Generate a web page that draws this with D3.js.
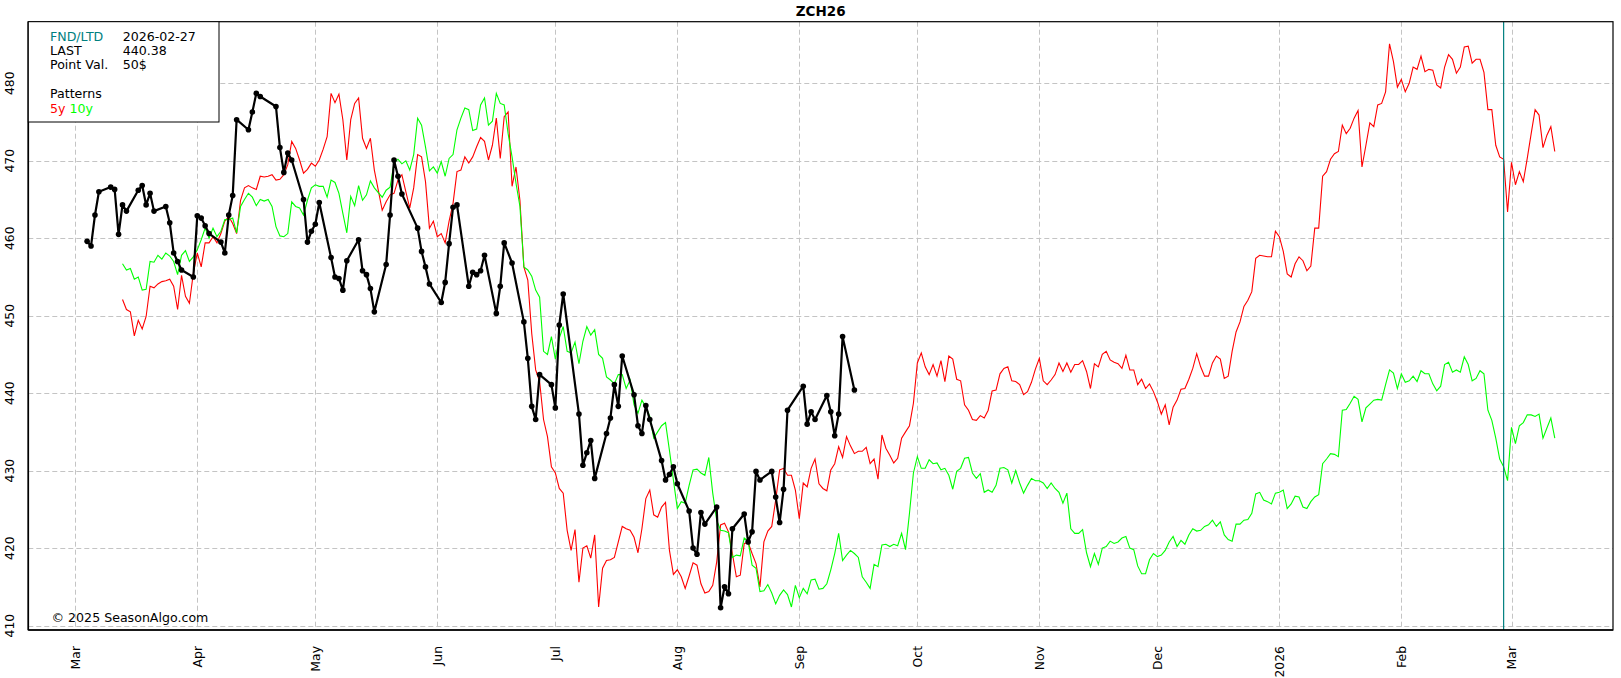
<!DOCTYPE html>
<html>
<head>
<meta charset="utf-8">
<script src="https://cdn.jsdelivr.net/npm/d3@7"></script>
<style>
  html, body { margin: 0; padding: 0; background: #fff; }
  svg { display: block; font-family: "DejaVu Sans", sans-serif; }
</style>
</head>
<body>
<svg id="chart" width="1621" height="678"></svg>
<script>
// ---------------- DATA ----------------
const title = "ZCH26";
const fndDate = "2026-02-27";
const lastPrice = "440.38";
const pointValue = "50$";

const blackDates = [
  "2025-03-04","2025-03-05","2025-03-06","2025-03-07","2025-03-10","2025-03-11","2025-03-12","2025-03-13","2025-03-14",
  "2025-03-17","2025-03-18","2025-03-19","2025-03-20","2025-03-21","2025-03-24","2025-03-25","2025-03-26","2025-03-27","2025-03-28",
  "2025-03-31","2025-04-01","2025-04-02","2025-04-03","2025-04-04","2025-04-07","2025-04-08","2025-04-09","2025-04-10","2025-04-11",
  "2025-04-14","2025-04-15","2025-04-16","2025-04-17","2025-04-21","2025-04-22","2025-04-23","2025-04-24","2025-04-25",
  "2025-04-28","2025-04-29","2025-04-30","2025-05-01","2025-05-02","2025-05-05","2025-05-06","2025-05-07","2025-05-08","2025-05-09",
  "2025-05-12","2025-05-13","2025-05-14","2025-05-15","2025-05-16","2025-05-19","2025-05-20","2025-05-21","2025-05-22","2025-05-23",
  "2025-05-27","2025-05-28","2025-05-29","2025-05-30","2025-06-02","2025-06-03","2025-06-04","2025-06-05","2025-06-06",
  "2025-06-09","2025-06-10","2025-06-11","2025-06-12","2025-06-13","2025-06-16","2025-06-17","2025-06-18","2025-06-20",
  "2025-06-23","2025-06-24","2025-06-25","2025-06-26","2025-06-27","2025-06-30","2025-07-01","2025-07-02","2025-07-03",
  "2025-07-07","2025-07-08","2025-07-09","2025-07-10","2025-07-11","2025-07-14","2025-07-15","2025-07-16","2025-07-17","2025-07-18",
  "2025-07-21","2025-07-22","2025-07-23","2025-07-24","2025-07-25","2025-07-28","2025-07-29","2025-07-30","2025-07-31","2025-08-01",
  "2025-08-04","2025-08-05","2025-08-06","2025-08-07","2025-08-08","2025-08-11","2025-08-12","2025-08-13","2025-08-14","2025-08-15",
  "2025-08-18","2025-08-19","2025-08-20","2025-08-21","2025-08-22","2025-08-25","2025-08-26","2025-08-27","2025-08-28","2025-08-29",
  "2025-09-02","2025-09-03","2025-09-04","2025-09-05","2025-09-08","2025-09-09","2025-09-10","2025-09-11","2025-09-12","2025-09-15"
];
const blackValues = [
  459.6,459.0,463.0,466.0,466.6,466.3,460.5,464.3,463.5,
  466.2,466.8,464.3,465.8,463.5,464.1,462.0,458.1,457.0,455.9,
  455.0,462.9,462.6,461.6,460.6,459.5,458.1,463.0,465.5,475.3,
  474.0,476.3,478.7,478.3,477.0,471.7,468.5,471.0,470.1,
  465.0,459.5,460.9,461.8,464.6,457.5,455.0,454.8,453.3,457.1,
  459.8,455.8,455.3,453.5,450.5,456.6,463.0,470.1,468.0,465.7,
  461.3,458.3,456.3,454.1,451.7,454.3,459.3,464.0,464.3,
  453.8,455.6,455.3,455.8,457.8,450.3,453.8,459.4,456.8,
  449.2,444.5,438.3,436.6,442.4,441.1,438.1,448.8,452.8,
  437.3,430.7,432.3,433.9,429.0,434.8,436.8,441.1,438.3,444.8,
  439.8,435.8,434.8,438.4,436.6,431.3,428.8,429.5,430.5,428.3,
  424.8,420.0,419.2,424.6,423.1,425.3,412.3,415.0,414.1,422.5,
  424.4,420.8,422.1,429.9,428.8,429.9,426.6,423.3,427.6,437.8,
  440.9,436.0,437.6,436.6,439.7,437.6,434.5,437.3,447.3,440.4
];

// Seasonal patterns: one value per calendar day starting at patternStart
const patternStart = "2025-03-13";
const pattern5y = [
  452.1,450.8,450.5,447.4,449.4,448.3,449.9,453.8,453.6,454.1,
  454.4,454.5,454.7,453.8,450.8,455.2,452.5,451.6,455.5,458.1,
  456.3,459.4,459.4,460.2,459.4,460.6,462.2,462.8,461.9,460.6,
  464.9,466.5,466.8,466.5,466.3,468.0,467.9,468.0,468.2,467.5,
  467.6,468.2,469.5,472.5,471.6,470.1,468.4,468.9,469.7,469.3,
  470.1,471.5,473.1,478.7,477.5,478.6,475.3,470.1,475.3,477.4,
  478.1,472.9,471.6,472.9,468.8,466.2,463.6,464.7,465.6,465.8,
  467.5,468.2,466.0,463.9,466.5,470.8,470.5,467.3,461.3,462.2,
  460.2,460.6,459.4,462.2,464.5,468.6,468.8,470.5,469.7,470.5,
  471.8,473.0,472.5,470.1,472.0,475.5,470.3,475.7,476.3,466.7,
  469.2,464.9,456.3,454.6,447.7,443.0,441.5,436.6,434.4,430.5,
  429.7,427.7,427.1,422.3,419.7,422.4,415.6,420.0,420.3,418.7,
  421.7,412.4,417.4,418.4,418.5,418.8,420.8,422.8,422.5,422.3,
  421.4,419.4,422.5,426.4,427.5,424.3,424.0,425.3,425.9,419.7,
  416.6,417.2,416.3,414.8,416.4,418.1,417.8,415.4,414.2,414.4,
  415.2,418.2,423.0,423.2,422.1,419.3,416.3,416.5,420.6,420.7,
  419.3,418.0,415.0,420.8,422.2,422.8,426.2,430.1,430.3,429.4,
  429.4,427.5,423.8,428.4,427.9,430.3,431.5,428.3,427.7,427.4,
  430.1,430.9,433.1,431.7,434.4,433.2,432.2,432.5,432.5,433.0,
  430.9,431.5,428.9,434.6,432.9,432.0,431.0,431.6,434.2,435.0,
  435.8,438.7,443.9,445.2,443.4,442.4,443.7,442.2,444.2,441.5,
  444.8,444.4,441.8,441.6,438.5,437.8,436.6,436.5,437.1,436.8,
  437.8,440.3,440.4,442.5,443.2,443.4,441.6,441.5,441.1,439.8,
  440.2,441.4,443.1,444.5,441.6,441.1,441.7,442.4,443.9,442.8,
  443.9,442.7,443.7,443.7,444.2,442.8,440.6,443.8,443.4,445.0,
  445.4,444.3,444.0,443.8,443.2,444.9,443.0,443.0,441.1,441.8,
  440.6,441.2,440.2,438.9,437.3,438.5,435.9,438.2,439.1,440.5,
  440.6,441.8,443.2,445.1,443.4,442.2,442.2,443.9,444.8,444.4,
  441.9,442.2,445.4,447.9,449.2,451.2,452.0,453.1,457.4,457.8,
  457.7,457.6,457.6,460.9,460.2,458.3,455.4,455.0,456.7,457.6,
  457.1,455.8,456.4,461.3,461.3,468.0,468.6,470.2,470.9,471.2,
  474.6,473.5,474.2,475.5,476.5,469.2,472.0,474.9,474.4,477.2,
  477.4,478.9,485.1,482.8,479.5,480.5,478.9,480.0,482.1,481.8,
  483.5,481.5,481.8,481.7,479.8,479.4,482.1,483.7,483.1,481.3,
  482.1,484.7,484.8,482.6,483.1,483.1,481.4,476.6,476.6,472.0,
  470.5,470.2,463.4,469.8,466.9,468.6,467.3,470.3,473.5,476.6,
  475.9,471.7,473.3,474.4,471.2
];
const pattern10y = [
  456.7,455.9,456.1,454.7,455.0,453.3,453.4,457.0,456.9,457.8,
  457.3,458.1,457.7,457.0,455.3,457.8,458.4,457.0,457.6,458.5,
  459.8,461.3,460.0,461.3,460.2,460.9,462.4,462.4,462.6,460.7,
  464.1,465.0,465.8,465.3,464.2,465.0,464.8,465.0,464.1,461.5,
  460.3,460.2,460.6,464.7,464.1,463.9,463.0,464.9,466.5,466.9,
  466.7,466.7,465.3,467.5,467.2,465.8,463.2,460.7,465.4,464.2,
  466.8,464.9,465.6,467.4,466.5,465.9,465.3,466.2,466.6,469.7,
  470.2,469.6,470.0,468.8,470.8,475.5,474.6,471.8,468.7,469.2,
  468.4,469.9,468.0,470.3,470.8,474.0,475.5,476.8,476.6,473.9,
  474.1,477.2,478.1,474.6,475.1,478.7,477.4,477.2,473.5,470.5,
  467.1,464.1,456.3,455.9,455.1,453.3,452.4,445.4,445.0,447.3,
  444.4,447.1,448.6,445.4,445.2,446.6,443.8,446.7,448.6,447.5,
  448.2,445.0,444.5,442.1,441.7,441.2,442.4,442.4,440.6,441.7,
  438.5,437.4,439.1,438.2,437.0,434.2,435.0,435.8,436.2,432.6,
  428.8,425.1,426.0,425.8,428.1,430.1,430.2,429.7,429.4,431.7,
  427.1,423.6,422.3,422.2,422.0,418.8,419.1,419.0,421.3,420.9,
  417.8,417.4,414.4,414.5,415.3,414.2,412.8,413.9,414.6,414.0,
  412.4,415.2,413.6,414.8,414.1,415.9,416.0,414.7,414.8,415.4,
  417.2,419.3,421.9,418.4,419.1,419.7,419.3,418.8,416.3,415.6,
  414.8,417.9,417.6,420.4,420.5,420.2,420.5,420.3,421.9,419.8,
  424.5,429.7,431.8,430.3,430.3,431.4,430.9,431.0,430.1,430.3,
  429.4,427.6,429.9,430.3,431.6,431.7,429.7,429.0,429.6,427.2,
  427.5,427.2,428.1,430.3,430.4,430.1,428.4,430.0,428.4,427.1,
  428.1,429.0,428.7,428.7,428.4,427.7,428.4,427.7,427.2,425.8,
  427.1,422.5,421.9,421.9,422.4,419.4,417.6,419.3,417.9,420.0,
  420.2,420.9,420.6,420.8,421.3,421.5,420.0,419.8,417.7,416.7,
  416.7,418.5,419.3,418.9,419.1,419.7,420.8,421.5,420.2,421.0,
  420.5,421.7,422.5,422.2,422.3,422.8,423.0,423.6,422.8,423.4,
  421.7,421.1,420.9,423.1,423.1,423.6,423.7,424.5,427.0,427.2,
  426.2,426.0,425.7,427.1,427.2,427.5,425.1,425.7,426.7,426.6,
  425.3,425.1,426.0,426.6,426.9,430.9,431.5,432.2,432.1,431.8,
  437.8,437.9,438.7,439.6,439.2,436.3,438.1,438.6,439.1,439.2,
  439.1,441.1,443.0,442.6,440.6,442.5,441.4,441.6,442.2,441.5,
  442.9,442.5,442.5,441.2,440.3,440.9,443.7,444.0,442.7,443.0,
  442.7,444.7,443.7,441.6,441.9,442.9,442.5,437.8,436.5,434.2,
  431.5,430.5,428.7,435.6,433.5,435.8,436.2,437.2,437.2,437.0,
  437.3,434.2,435.5,436.8,434.2
];

const yTicks = [410, 420, 430, 440, 450, 460, 470, 480];
const monthTickStart = "2025-03-01";
const monthTickEnd = "2026-03-02";
const yDomain = [409.43, 487.95];
const xAnchorDates = ["2025-03-01", "2026-03-01"];

// ---------------- LAYOUT ----------------
const W = 1621, H = 678;
const plot = { left: 28.3, right: 1613, top: 21.7, bottom: 630 };

const parse = d3.utcParse("%Y-%m-%d");
const svg = d3.select("#chart");

const x = d3.scaleUtc()
  .domain(xAnchorDates.map(parse))
  .range([75.3, 1511.5]);
const y = d3.scaleLinear().domain(yDomain).range([plot.bottom, plot.top]);

svg.append("defs").append("clipPath").attr("id", "clip")
  .append("rect")
  .attr("x", plot.left).attr("y", plot.top)
  .attr("width", plot.right - plot.left).attr("height", plot.bottom - plot.top);

// Title
svg.append("text")
  .attr("x", (plot.left + plot.right) / 2).attr("y", 15.5)
  .attr("text-anchor", "middle")
  .attr("font-size", 13.5)
  .attr("font-weight", "bold")
  .attr("fill", "#000")
  .text(title);

// Grid
const months = d3.utcMonth.range(parse(monthTickStart), parse(monthTickEnd));
const grid = svg.append("g").attr("stroke", "#c4c4c4").attr("stroke-width", 1)
  .attr("stroke-dasharray", "5,3").attr("fill", "none");
grid.selectAll("line.v").data(months).join("line").attr("class", "v")
  .attr("x1", d => Math.round(x(d)) + 0.5).attr("x2", d => Math.round(x(d)) + 0.5)
  .attr("y1", plot.top).attr("y2", plot.bottom);
grid.selectAll("line.h").data(yTicks).join("line").attr("class", "h")
  .attr("x1", plot.left).attr("x2", plot.right)
  .attr("y1", d => Math.round(y(d)) + 0.5).attr("y2", d => Math.round(y(d)) + 0.5);

// X tick labels (rotated)
const fmtMonth = d => d.getUTCMonth() === 0 ? String(d.getUTCFullYear()) : d3.utcFormat("%b")(d);
svg.append("g").selectAll("text").data(months).join("text")
  .attr("transform", d => `translate(${x(d)},646) rotate(-90)`)
  .attr("text-anchor", "end")
  .attr("dy", "0.35em")
  .attr("font-size", 12.4)
  .attr("fill", "#000")
  .text(fmtMonth);

// Y tick labels (rotated)
svg.append("g").selectAll("text").data(yTicks).join("text")
  .attr("transform", d => `translate(13.5,${y(d)}) rotate(-90)`)
  .attr("text-anchor", "middle")
  .attr("font-size", 12.4)
  .attr("fill", "#000")
  .text(d => d);

// Pattern lines
const start = parse(patternStart);
const toPts = arr => arr.map((v, i) => ({ date: d3.utcDay.offset(start, i), value: v }));
const line = d3.line().x(d => x(d.date)).y(d => y(d.value));
const plotG = svg.append("g").attr("clip-path", "url(#clip)");

plotG.append("path").datum(toPts(pattern5y))
  .attr("fill", "none").attr("stroke", "#ff0000").attr("stroke-width", 1.1)
  .attr("d", line);
plotG.append("path").datum(toPts(pattern10y))
  .attr("fill", "none").attr("stroke", "#00ff00").attr("stroke-width", 1.1)
  .attr("d", line);

// FND/LTD vertical line
plotG.append("line")
  .attr("x1", x(parse(fndDate))).attr("x2", x(parse(fndDate)))
  .attr("y1", plot.top).attr("y2", plot.bottom)
  .attr("stroke", "#008080").attr("stroke-width", 1.2);

// Actual price
const actual = blackDates.map((d, i) => ({ date: parse(d), value: blackValues[i] }));
plotG.append("path").datum(actual)
  .attr("fill", "none").attr("stroke", "#000").attr("stroke-width", 2.2)
  .attr("stroke-linejoin", "round")
  .attr("d", line);
plotG.append("g").selectAll("circle").data(actual).join("circle")
  .attr("cx", d => x(d.date)).attr("cy", d => y(d.value)).attr("r", 2.8)
  .attr("fill", "#000");

// Frame
svg.append("rect")
  .attr("x", plot.left).attr("y", plot.top)
  .attr("width", plot.right - plot.left).attr("height", plot.bottom - plot.top)
  .attr("fill", "none").attr("stroke", "#000").attr("stroke-width", 1.2);
svg.append("line").attr("x1", plot.left).attr("x2", plot.left)
  .attr("y1", plot.top).attr("y2", plot.bottom).attr("stroke", "#000").attr("stroke-width", 1.6);
svg.append("line").attr("x1", plot.left).attr("x2", plot.right)
  .attr("y1", plot.bottom).attr("y2", plot.bottom).attr("stroke", "#000").attr("stroke-width", 1.6);

// Copyright
svg.append("text").attr("x", 51.5).attr("y", 621.5)
  .attr("font-size", 12.6).attr("fill", "#000")
  .text("\u00A9 2025 SeasonAlgo.com");

// Info / legend box
const box = svg.append("g");
box.append("rect")
  .attr("x", plot.left).attr("y", plot.top)
  .attr("width", 219 - plot.left).attr("height", 122 - plot.top)
  .attr("fill", "#fff").attr("stroke", "#000").attr("stroke-width", 1);
const infoRows = [
  { label: "FND/LTD", value: fndDate, color: "#008080", y: 40.5 },
  { label: "LAST", value: lastPrice, color: "#000", y: 55 },
  { label: "Point Val.", value: pointValue, color: "#000", y: 69 }
];
infoRows.forEach(r => {
  box.append("text").attr("x", 50).attr("y", r.y).attr("font-size", 12.6)
    .attr("fill", r.color).text(r.label);
  box.append("text").attr("x", 122.7).attr("y", r.y).attr("font-size", 12.6)
    .attr("fill", "#000").text(r.value);
});
box.append("text").attr("x", 50).attr("y", 98.3).attr("font-size", 12.6)
  .attr("fill", "#000").text("Patterns");
const pl = box.append("text").attr("x", 50).attr("y", 113).attr("font-size", 12.6);
pl.append("tspan").attr("fill", "#ff0000").text("5y");
pl.append("tspan").attr("fill", "#00ff00").text(" 10y");
</script>
</body>
</html>
